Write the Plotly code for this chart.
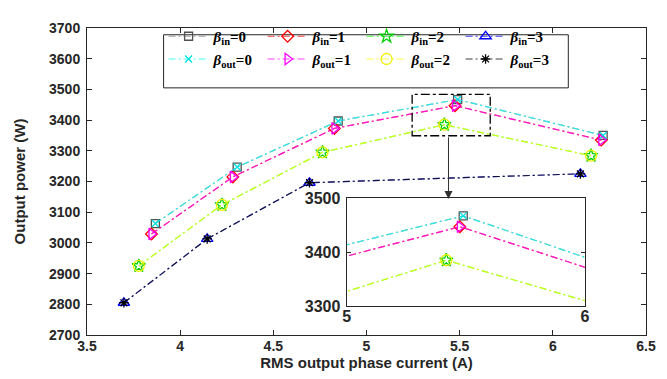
import plotly.graph_objects as go

# ---------------- data ----------------
x_b0 = [3.867, 4.306, 4.848, 5.489, 6.27]
p_b0 = [3063, 3247, 3397, 3467, 3350]
x_b1 = [3.846, 4.283, 4.828, 5.475, 6.26]
p_b1 = [3029, 3215, 3373, 3447, 3335]
x_b2 = [3.778, 4.224, 4.764, 5.418, 6.205]
p_b2 = [2925, 3124, 3295, 3385, 3284]
x_b3 = [3.698, 4.145, 4.694, 6.148]
p_b3 = [2805, 3013, 3196, 3225]

xs = [x_b0, x_b1, x_b2, x_b3]
ps = [p_b0, p_b1, p_b2, p_b3]

in_names = ["<i>β</i><sub>in</sub>=0", "<i>β</i><sub>in</sub>=1",
            "<i>β</i><sub>in</sub>=2", "<i>β</i><sub>in</sub>=3"]
out_names = ["<i>β</i><sub>out</sub>=0", "<i>β</i><sub>out</sub>=1",
             "<i>β</i><sub>out</sub>=2", "<i>β</i><sub>out</sub>=3"]

in_line = ["rgba(128,128,128,0.75)", "rgba(255,0,0,0.75)", "rgba(0,255,0,0.75)", "rgba(0,0,255,0.75)"]
in_mark = ["#505050", "#ff0000", "#00d000", "#0000ff"]
in_sym = ["square-open", "diamond-open", "star-open", "triangle-up-open"]
in_size = [8, 9, 10, 10]
out_line = ["rgba(0,255,255,0.75)", "rgba(255,0,255,0.75)", "rgba(255,255,0,0.75)", "rgba(0,0,0,0.75)"]
out_mark = ["#00e0e0", "#ff00ff", "#f0f000", "#000000"]
out_sym = ["x-thin-open", "triangle-right-open", "circle-open", "asterisk-open"]
out_size = [7, 10, 11, 8]

DASH = "7px,3px,2px,3px"

fig = go.Figure()

def add_series(xa, ya, show):
    for i in range(4):
        fig.add_trace(go.Scatter(
            x=xs[i], y=ps[i], mode="lines+markers", name=in_names[i],
            line=dict(color=in_line[i], width=1.2, dash=DASH),
            marker=dict(symbol=in_sym[i], size=in_size[i], color=in_mark[i],
                        line=dict(color=in_mark[i], width=1.3)),
            xaxis=xa, yaxis=ya, showlegend=show, legend="legend"))
    for i in range(4):
        fig.add_trace(go.Scatter(
            x=xs[i], y=ps[i], mode="lines+markers", name=out_names[i],
            line=dict(color=out_line[i], width=1.2, dash=DASH),
            marker=dict(symbol=out_sym[i], size=out_size[i], color=out_mark[i],
                        line=dict(color=out_mark[i], width=1.3)),
            xaxis=xa, yaxis=ya, showlegend=show, legend="legend2"))

add_series("x", "y", True)
add_series("x2", "y2", False)

axcol = "#262626"
tickf = dict(family="Liberation Sans, Arial", size=14, color=axcol, weight="bold")
titlef = dict(family="Liberation Sans, Arial", size=15, color=axcol, weight="bold")
inf = dict(family="Liberation Sans, Arial", size=16, color=axcol, weight="bold")
legf = dict(family="Liberation Serif, Times New Roman", size=15, color="#000000", weight="bold")

fig.update_layout(
    width=667, height=379,
    margin=dict(l=77, r=29, t=14, b=52),
    paper_bgcolor="white", plot_bgcolor="white",
    xaxis=dict(range=[3.5, 6.5], dtick=0.5, tick0=3.5, domain=[0, 1], anchor="y",
               ticks="inside", ticklen=5, tickcolor=axcol, showline=True, linecolor=axcol,
               linewidth=1, mirror="ticks", showgrid=False, zeroline=False, tickfont=tickf,
               ticklabelstandoff=-2,
               title=dict(text="RMS output phase current (A)", font=titlef, standoff=0)),
    yaxis=dict(range=[2700, 3700], dtick=100, domain=[0, 1], anchor="x",
               ticks="inside", ticklen=5, tickcolor=axcol, showline=True, linecolor=axcol,
               linewidth=1, mirror="ticks", showgrid=False, zeroline=False, tickfont=tickf,
               ticklabelstandoff=3,
               title=dict(text="Output power (W)", font=titlef, standoff=19)),
    xaxis2=dict(range=[5, 6], tickvals=[5, 6], domain=[0.4647, 0.8907], anchor="y2",
                ticks="", showline=True, linecolor=axcol, linewidth=1.3, mirror=True,
                showgrid=False, zeroline=False, tickfont=inf, ticklabelstandoff=-5),
    yaxis2=dict(range=[3300, 3500], tickvals=[3300, 3400, 3500], domain=[0.0936, 0.4463],
                anchor="x2", ticks="inside", ticklen=4, tickcolor=axcol, showline=True,
                linecolor=axcol, linewidth=1.3, mirror="ticks", showgrid=False,
                zeroline=False, tickfont=inf, ticklabelstandoff=2),
    legend=dict(orientation="h", x=0.137, y=1.026, xanchor="left", yanchor="top",
                entrywidth=44, entrywidthmode="pixels", font=legf, bgcolor="rgba(0,0,0,0)",
                borderwidth=0, itemwidth=40, tracegroupgap=0),
    legend2=dict(orientation="h", x=0.137, y=0.952, xanchor="left", yanchor="top",
                 entrywidth=44, entrywidthmode="pixels", font=legf, bgcolor="rgba(0,0,0,0)",
                 borderwidth=0, itemwidth=40, tracegroupgap=0),
    shapes=[
        dict(type="rect", xref="paper", yref="paper", x0=0.137, x1=0.861, y0=0.805, y1=0.978,
             line=dict(color=axcol, width=1), fillcolor="rgba(0,0,0,0)", layer="above"),
        dict(type="rect", xref="x", yref="y", x0=5.245, x1=5.664, y0=3349, y1=3484,
             line=dict(color="#000000", width=1.3, dash="dashdot"), layer="above"),
    ],
    annotations=[
        dict(x=5.44, y=3143, ax=5.44, ay=3349, xref="x", yref="y", axref="x", ayref="y",
             text="", showarrow=True, arrowhead=2, arrowsize=1.6, arrowwidth=1,
             arrowcolor="#303030"),
    ],
)

fig.write_html("out.html")
